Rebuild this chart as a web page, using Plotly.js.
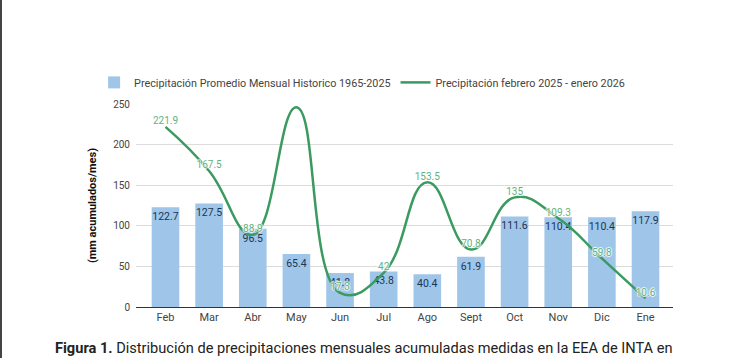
<!DOCTYPE html>
<html>
<head>
<meta charset="utf-8">
<script src="https://cdn.plot.ly/plotly-3.0.1.min.js"></script>
<style>
html,body{margin:0;padding:0;background:#fff;}
#wrap{position:relative;width:730px;height:358px;}
#edge{position:absolute;left:0;top:0;width:2px;height:358px;background:#444;z-index:5;}
#chart{width:730px;height:358px;}
</style>
</head>
<body>
<div id="wrap"><div id="edge"></div><div id="chart"></div></div>
<script>
const months = ["Feb","Mar","Abr","May","Jun","Jul","Ago","Sept","Oct","Nov","Dic","Ene"];
const historico = [122.7,127.5,96.5,65.4,41.8,43.8,40.4,61.9,111.6,110.4,110.4,117.9];
const actual = [221.9,167.5,88.9,246,17.3,42,153.5,70.8,135,109.3,59.8,10.6];
// data labels shown on the line (the May label is not visible in the reference)
const actualLabels = ["221.9","167.5","88.9","","17.3","42","153.5","70.8","135","109.3","59.8","10.6"];
const yTicks = [0,50,100,150,200,250];

const halo = "white 1px 0px 1px, white -1px 0px 1px, white 0px 1px 1px, white 0px -1px 1px";

const bars = {
  type: "bar",
  name: "Precipitación Promedio Mensual Historico 1965-2025",
  x: months,
  y: historico,
  marker: {color: "#9fc5e8"},
  text: historico.map(v => String(v)),
  textposition: "inside",
  insidetextanchor: "end",
  constraintext: "none",
  textangle: 0,
  textfont: {family: "Roboto", size: 10.5, color: "#1c3553"},
  hoverinfo: "skip"
};
const line = {
  type: "scatter",
  mode: "lines+text",
  name: "Precipitación febrero 2025 - enero 2026",
  x: months,
  y: actual,
  line: {color: "#3a9a5f", width: 2.5, shape: "spline", smoothing: 1.3},
  text: actualLabels,
  textposition: "top center",
  textfont: {family: "Roboto", size: 10, color: "#5fb27e", shadow: halo},
  cliponaxis: true,
  hoverinfo: "skip"
};

const layout = {
  width: 730, height: 358,
  margin: {l: 136, r: 57, t: 104, b: 51},
  paper_bgcolor: "#fff", plot_bgcolor: "#fff",
  font: {family: "Roboto", size: 11, color: "#444"},
  bargap: 0.367,
  showlegend: true,
  legend: {orientation: "h", x: -0.078, xanchor: "left", y: 1.035, yanchor: "bottom",
    bgcolor: "rgba(0,0,0,0)",
    font: {family: "Roboto", size: 10.8, color: "#444"}, traceorder: "normal", itemwidth: 30},
  xaxis: {
    type: "category", range: [-0.676, 11.63],
    showgrid: false, showline: true, linecolor: "#333", linewidth: 1,
    automargin: false,
    ticks: "", tickfont: {family: "Roboto", size: 11, color: "#444"}, fixedrange: true
  },
  yaxis: {
    range: [0, 250], tickvals: yTicks, ticktext: yTicks.map(String),
    showgrid: true, gridcolor: "#dcdcdc", zeroline: false, showline: false,
    automargin: false, ticklabelstandoff: 5,
    ticks: "", tickfont: {family: "Roboto", size: 10, color: "#444"},
    title: {text: "<b>(mm acumulados/mes)</b>", font: {family: "Roboto", size: 11, color: "#111"}, standoff: 14},
    fixedrange: true
  },
  annotations: [{
    xref: "paper", yref: "paper", x: 0.4246, y: -0.2, xanchor: "center", yanchor: "middle",
    showarrow: false,
    text: "<b>Figura 1.</b> Distribución de precipitaciones mensuales acumuladas medidas en la EEA de INTA en",
    font: {family: "Roboto", size: 14.6, color: "#222"}
  }]
};

Plotly.newPlot("chart", [bars, line], layout, {displayModeBar: false, staticPlot: true});
</script>
</body>
</html>
